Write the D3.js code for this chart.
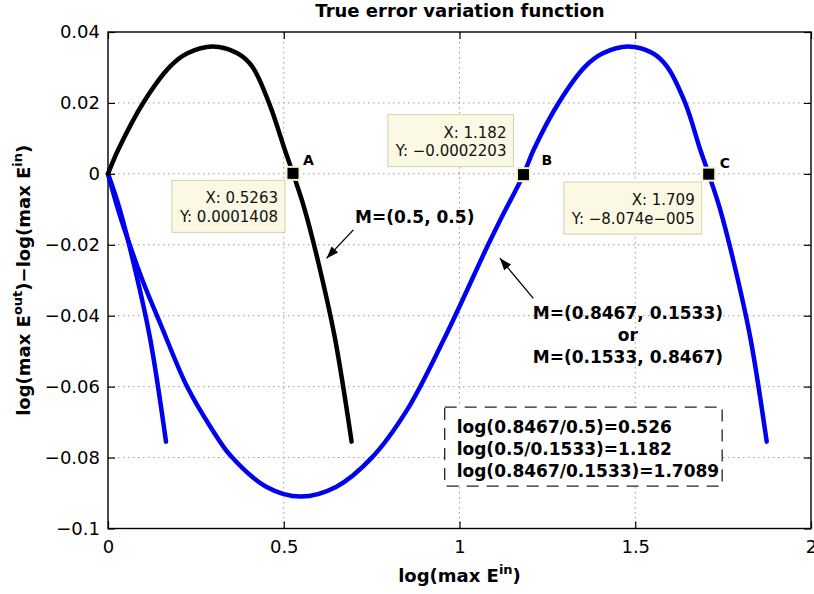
<!DOCTYPE html>
<html>
<head>
<meta charset="utf-8">
<script src="https://cdn.jsdelivr.net/npm/d3@7"></script>
<style>
  body { margin: 0; background: #fff; }
  svg { display: block; }
  text { font-family: "DejaVu Sans", sans-serif; }
</style>
</head>
<body>
<svg id="chart" width="814" height="594"></svg>
<script>
// values
const blackX = [0, 0.029, 0.1, 0.177, 0.226, 0.298, 0.368, 0.41, 0.458, 0.503, 0.5263, 0.558, 0.596, 0.645, 0.693];
const blackY = [0, 0.0068, 0.02, 0.0303, 0.034, 0.0359, 0.034, 0.0303, 0.02, 0.0068, 0.0001, -0.0095, -0.024, -0.046, -0.0755];

const blueX = [0, 0.03, 0.06, 0.1, 0.15, 0.226, 0.297, 0.349, 0.45, 0.548, 0.65, 0.75, 0.85, 0.955, 1.079, 1.116, 1.182,
               1.211, 1.282, 1.358, 1.408, 1.48, 1.55, 1.59, 1.642, 1.685, 1.709, 1.74, 1.778, 1.827, 1.874];
const blueY = [0, -0.0105, -0.0195, -0.0305, -0.0425, -0.0602, -0.0722, -0.0795, -0.0882, -0.091, -0.0882, -0.0801, -0.0667, -0.0468, -0.0205, -0.013, -0.0002,
               0.0068, 0.02, 0.0303, 0.034, 0.0359, 0.034, 0.0303, 0.02, 0.0068, -0.0001, -0.0095, -0.024, -0.046, -0.0755];

const blueShortX = [0, 0.032, 0.07, 0.119, 0.165];
const blueShortY = [0, -0.0095, -0.024, -0.046, -0.0755];

const xTicks = [0, 0.5, 1, 1.5, 2];
const yTicks = [-0.1, -0.08, -0.06, -0.04, -0.02, 0, 0.02, 0.04];

const tipX = [0.5263, 1.182, 1.709];
const tipY = [0.0001408, -0.0002203, -0.00008074];
const tipNames = ["A", "B", "C"];
const tipLines = [["X: 0.5263", "Y: 0.0001408"], ["X: 1.182", "Y: \u22120.0002203"], ["X: 1.709", "Y: \u22128.074e\u2212005"]];

const noteLines = ["log(0.8467/0.5)=0.526", "log(0.5/0.1533)=1.182", "log(0.8467/0.1533)=1.7089"];

const svg = d3.select("#chart");
const x = d3.scaleLinear().domain([0, 2]).range([108, 811]);
const y = d3.scaleLinear().domain([-0.1, 0.04]).range([528.5, 32]);

// title
svg.append("text").attr("x", 460).attr("y", 17).attr("text-anchor", "middle")
  .attr("font-size", 18).attr("font-weight", "bold").text("True error variation function");

// grid
const grid = svg.append("g").attr("stroke", "#999").attr("stroke-dasharray", "1.5,3.5").attr("stroke-width", 1);
grid.selectAll(".gx").data(xTicks.slice(1, -1)).join("line")
  .attr("x1", d => x(d)).attr("x2", d => x(d)).attr("y1", y(0.04)).attr("y2", y(-0.1));
grid.selectAll(".gy").data(yTicks.slice(1, -1)).join("line")
  .attr("y1", d => y(d)).attr("y2", d => y(d)).attr("x1", x(0)).attr("x2", x(2));

// axes, ticks pointing inward
const fmt = d3.format("");
const xAxis = svg.append("g").attr("transform", `translate(0,${y(-0.1)})`)
  .call(d3.axisBottom(x).tickValues(xTicks).tickFormat(fmt).tickSizeInner(-7).tickSizeOuter(0).tickPadding(12));
const yAxis = svg.append("g").attr("transform", `translate(${x(0)},0)`)
  .call(d3.axisLeft(y).tickValues(yTicks).tickFormat(fmt).tickSizeInner(-7).tickSizeOuter(0).tickPadding(8));
const xTop = svg.append("g").attr("transform", `translate(0,${y(0.04)})`)
  .call(d3.axisTop(x).tickValues(xTicks).tickFormat("").tickSizeInner(-7).tickSizeOuter(0));
const yRight = svg.append("g").attr("transform", `translate(${x(2)},0)`)
  .call(d3.axisRight(y).tickValues(yTicks).tickFormat("").tickSizeInner(-7).tickSizeOuter(0));
[xAxis, yAxis, xTop, yRight].forEach(g => {
  g.select(".domain").remove();
  g.selectAll("line").attr("stroke", "#000").attr("stroke-width", 1.2);
  g.selectAll("text").attr("font-size", 18).attr("font-family", "DejaVu Sans").attr("fill", "#000");
});
svg.append("rect").attr("x", x(0)).attr("y", y(0.04)).attr("width", x(2) - x(0)).attr("height", y(-0.1) - y(0.04))
  .attr("fill", "none").attr("stroke", "#000").attr("stroke-width", 1.4);

// axis labels
const xl = svg.append("text").attr("x", (x(0) + x(2)) / 2).attr("y", 582).attr("text-anchor", "middle")
  .attr("font-size", 18).attr("font-weight", "bold");
xl.append("tspan").text("log(max E");
xl.append("tspan").attr("font-size", 13).attr("dy", -8).text("in");
xl.append("tspan").attr("dy", 8).text(")");

const yl = svg.append("text").attr("transform", `translate(30,${(y(0.04) + y(-0.1)) / 2}) rotate(-90)`)
  .attr("text-anchor", "middle").attr("font-size", 18).attr("font-weight", "bold");
yl.append("tspan").text("log(max E");
yl.append("tspan").attr("font-size", 13).attr("dy", -8).text("out");
yl.append("tspan").attr("dy", 8).text(")\u2212log(max E");
yl.append("tspan").attr("font-size", 13).attr("dy", -8).text("in");
yl.append("tspan").attr("dy", 8).text(")");

// curves
const line = d3.line().curve(d3.curveCatmullRom.alpha(0.5));
const series = [
  {xs: blueShortX, ys: blueShortY, color: "#0000f0"},
  {xs: blueX, ys: blueY, color: "#0000f0"},
  {xs: blackX, ys: blackY, color: "#000"}
];
series.forEach(s => {
  svg.append("path")
    .attr("d", line(s.xs.map((v, i) => [x(v), y(s.ys[i])])))
    .attr("fill", "none").attr("stroke", s.color).attr("stroke-width", 4.5)
    .attr("stroke-linecap", "round").attr("stroke-linejoin", "round");
});

// data tips: marker, letter, box
const tipBox = [{dx: -8, dy: 7, below: true}, {dx: -10, dy: -8, below: false}, {dx: -7, dy: 8, below: true}];
const tipLetter = [[10, -8], [18, -10], [11, -6]];
tipX.forEach((tx, i) => {
  const mx = x(tx), my = y(tipY[i]);
  svg.append("rect").attr("x", mx - 7.5).attr("y", my - 7.5).attr("width", 15).attr("height", 15).attr("fill", "#f6f1cf");
  svg.append("rect").attr("x", mx - 5.5).attr("y", my - 5.5).attr("width", 11).attr("height", 11).attr("fill", "#000");
  svg.append("text").attr("x", mx + tipLetter[i][0]).attr("y", my + tipLetter[i][1])
    .attr("font-size", 14).attr("font-weight", "bold").text(tipNames[i]);

  const b = tipBox[i];
  const right = mx + b.dx;
  const h = 52;
  const top = b.below ? my + b.dy : my + b.dy - h;
  const g = svg.append("g");
  const rect = g.append("rect");
  let w = 0;
  tipLines[i].forEach((t, k) => {
    const el = g.append("text").attr("x", right - 7).attr("y", top + 23 + k * 18.4)
      .attr("text-anchor", "end").attr("font-size", 15).attr("fill", "#111").text(t);
    w = Math.max(w, el.node().getComputedTextLength());
  });
  rect.attr("x", right - w - 15).attr("y", top).attr("width", w + 15).attr("height", h)
    .attr("fill", "#fbf9e3").attr("stroke", "#d4d0b0").attr("stroke-width", 1);
});

// arrows and annotation text
svg.append("defs").append("marker").attr("id", "ah").attr("viewBox", "0 0 12 10")
  .attr("refX", 12).attr("refY", 5).attr("markerWidth", 13).attr("markerHeight", 10)
  .attr("markerUnits", "userSpaceOnUse").attr("orient", "auto")
  .append("path").attr("d", "M0,0.5 L12,5 L0,9.5 z").attr("fill", "#000");

const arrows = [[0.698, -0.0158, 0.622, -0.0238], [1.21, -0.0351, 1.115, -0.0238]];
arrows.forEach(a => {
  svg.append("line").attr("x1", x(a[0])).attr("y1", y(a[1])).attr("x2", x(a[2])).attr("y2", y(a[3]))
    .attr("stroke", "#000").attr("stroke-width", 1.3).attr("marker-end", "url(#ah)");
});

svg.append("text").attr("x", x(0.703)).attr("y", y(-0.0139)).attr("font-size", 17).attr("font-weight", "bold")
  .text("M=(0.5, 0.5)");
["M=(0.8467, 0.1533)", "or", "M=(0.1533, 0.8467)"].forEach((t, k) => {
  svg.append("text").attr("x", x(1.479)).attr("y", y(-0.0409) + k * 22).attr("text-anchor", "middle")
    .attr("font-size", 17).attr("font-weight", "bold").text(t);
});

// dashed note box
const note = svg.append("g");
const noteText = note.append("g");
noteLines.forEach((t, k) => {
  noteText.append("text").attr("x", x(0.992)).attr("y", y(-0.0731) + k * 22)
    .attr("font-size", 17).attr("font-weight", "bold").text(t);
});
const bb = noteText.node().getBBox();
note.insert("rect", ":first-child").attr("x", bb.x - 12).attr("y", bb.y - 10).attr("width", bb.width + 15).attr("height", bb.height + 15)
  .attr("fill", "#fff").attr("stroke", "#222").attr("stroke-width", 1.3).attr("stroke-dasharray", "12,8");
</script>
</body>
</html>
